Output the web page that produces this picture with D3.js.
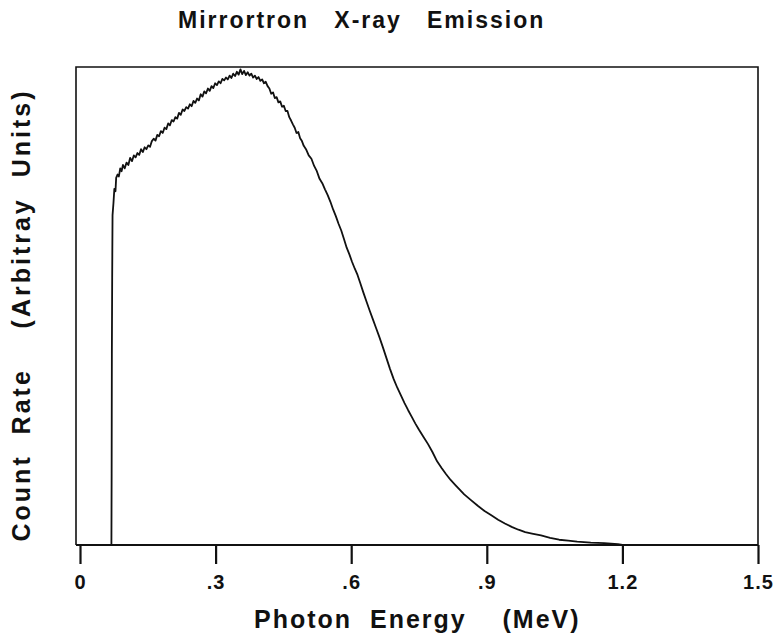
<!DOCTYPE html>
<html><head><meta charset="utf-8">
<script src="https://cdn.jsdelivr.net/npm/d3@7"></script>
<style>html,body{margin:0;padding:0;background:#fff;}svg{display:block;}</style>
</head><body>
<script>
const titleText = "Mirrortron   X-ray   Emission";
const xLabelText = "Photon  Energy    (MeV)";
const yLabelText = "Count  Rate    (Arbitray  Units)";
const xTicks = [0, 0.3, 0.6, 0.9, 1.2, 1.5];
const xTickLabels = ["0", ".3", ".6", ".9", "1.2", "1.5"];
const energy = [0.069,0.0695,0.0700,0.0705,0.0712,0.0720,0.0740,0.0760,0.0785,0.0800,0.0830,0.0860,0.0890,0.0920,0.0950,0.0990,0.1030,0.1070,0.1110,0.1150,0.1190,0.1230,0.1270,0.1310,0.1350,0.1390,0.1430,0.1470,0.1510,0.1550,0.1590,0.1630,0.1670,0.1710,0.1750,0.1790,0.1830,0.1870,0.1910,0.1950,0.1990,0.2030,0.2070,0.2110,0.2150,0.2190,0.2230,0.2270,0.2310,0.2350,0.2390,0.2430,0.2470,0.2510,0.2550,0.2590,0.2630,0.2670,0.2710,0.2750,0.2790,0.2830,0.2870,0.2910,0.2950,0.2990,0.3030,0.3070,0.3110,0.3150,0.3190,0.3230,0.3270,0.3310,0.3350,0.3390,0.3430,0.3470,0.3510,0.3550,0.3590,0.3630,0.3670,0.3710,0.3750,0.3790,0.3830,0.3870,0.3910,0.3950,0.3990,0.4030,0.4070,0.4110,0.4150,0.4190,0.4230,0.4270,0.4310,0.4350,0.4390,0.4430,0.4470,0.4510,0.4550,0.4590,0.4630,0.4670,0.4710,0.4750,0.4790,0.4830,0.4870,0.4910,0.4950,0.5000,0.5060,0.5120,0.5180,0.5240,0.5300,0.5360,0.5420,0.5480,0.5540,0.5600,0.5660,0.5720,0.5780,0.5840,0.5900,0.5960,0.6020,0.6080,0.6140,0.6200,0.6270,0.6340,0.6410,0.6480,0.6550,0.6620,0.6700,0.6780,0.6860,0.6940,0.7020,0.7100,0.7180,0.7260,0.7340,0.7420,0.7500,0.7600,0.7700,0.7800,0.7900,0.8000,0.8100,0.8200,0.8300,0.8400,0.8500,0.8650,0.8800,0.8950,0.9100,0.9250,0.9400,0.9550,0.9700,0.9850,1.0000,1.0200,1.0400,1.0600,1.0800,1.1000,1.1300,1.1600,1.1900,1.2000];
const countRate = [0.000,0.000,0.150,0.400,0.560,0.690,0.715,0.745,0.740,0.768,0.775,0.771,0.788,0.782,0.795,0.788,0.800,0.795,0.810,0.803,0.815,0.811,0.820,0.816,0.828,0.822,0.832,0.828,0.836,0.833,0.845,0.850,0.846,0.858,0.855,0.866,0.862,0.873,0.870,0.882,0.878,0.889,0.886,0.895,0.892,0.904,0.900,0.911,0.908,0.916,0.913,0.922,0.918,0.929,0.925,0.934,0.930,0.943,0.938,0.949,0.945,0.955,0.950,0.960,0.956,0.966,0.962,0.970,0.966,0.975,0.972,0.978,0.974,0.982,0.977,0.986,0.981,0.990,0.984,0.995,0.985,0.992,0.983,0.989,0.982,0.986,0.978,0.982,0.975,0.979,0.971,0.974,0.966,0.969,0.960,0.955,0.944,0.947,0.935,0.937,0.926,0.928,0.917,0.919,0.908,0.908,0.895,0.888,0.880,0.873,0.862,0.864,0.851,0.845,0.835,0.828,0.815,0.808,0.793,0.782,0.766,0.757,0.744,0.732,0.718,0.702,0.688,0.672,0.658,0.640,0.622,0.608,0.592,0.578,0.565,0.548,0.528,0.509,0.490,0.472,0.454,0.436,0.414,0.391,0.368,0.347,0.329,0.313,0.297,0.282,0.268,0.254,0.241,0.226,0.211,0.194,0.175,0.161,0.148,0.136,0.126,0.116,0.106,0.094,0.082,0.071,0.062,0.053,0.045,0.038,0.032,0.027,0.024,0.020,0.015,0.011,0.009,0.007,0.005,0.004,0.002,0.000];

const W = 777, H = 635;
const svg = d3.select("body").append("svg").attr("width", W).attr("height", H);
const font = "'Liberation Sans', Arial, Helvetica, sans-serif";
const frameL = 76, frameR = 758, frameT = 67, frameB = 545;
const x = d3.scaleLinear().domain([0, 1.5]).range([80, 758]);
const y = d3.scaleLinear().domain([0, 1]).range([frameB, frameT]);

// frame
svg.append("path")
  .attr("d", `M${frameL},${frameB}V${frameT}H${frameR}V${frameB}`)
  .attr("fill", "none").attr("stroke", "#111").attr("stroke-width", 1.6);

// x axis
const ax = d3.axisBottom(x).tickValues(xTicks).tickSize(19).tickPadding(11)
  .tickFormat((d, i) => xTickLabels[i]);
const g = svg.append("g").attr("transform", `translate(0,${frameB})`).call(ax);
g.select(".domain").remove();
svg.append("line").attr("x1", frameL).attr("x2", frameR).attr("y1", frameB).attr("y2", frameB)
  .attr("stroke", "#111").attr("stroke-width", 2.2);
g.selectAll(".tick line").attr("stroke", "#111").attr("stroke-width", 2.2);
g.selectAll(".tick text").attr("fill", "#111").attr("font-family", font)
  .attr("font-weight", "bold").attr("font-size", 20).attr("letter-spacing", "1px");

// curve
const pts = energy.map((e, i) => [e, countRate[i]]);
svg.append("path").datum(pts)
  .attr("d", d3.line().x(d => x(d[0])).y(d => y(d[1])))
  .attr("fill", "none").attr("stroke", "#111").attr("stroke-width", 1.8)
  .attr("stroke-linejoin", "round");

// title
svg.append("text").attr("x", 178).attr("y", 28).attr("text-anchor", "start")
  .attr("font-family", font).attr("font-weight", "bold").attr("font-size", 23)
  .attr("letter-spacing", "2px").attr("fill", "#111")
  .style("white-space", "pre").text(titleText);

// x label
svg.append("text").attr("x", 254).attr("y", 628).attr("text-anchor", "start")
  .attr("font-family", font).attr("font-weight", "bold").attr("font-size", 25)
  .attr("letter-spacing", "2px").attr("fill", "#111")
  .style("white-space", "pre").text(xLabelText);

// y label
svg.append("text").attr("transform", `translate(30,315) rotate(-90)`).attr("text-anchor", "middle")
  .attr("font-family", font).attr("font-weight", "bold").attr("font-size", 25)
  .attr("letter-spacing", "3px").attr("fill", "#111")
  .style("white-space", "pre").text(yLabelText);
</script>
</body></html>
